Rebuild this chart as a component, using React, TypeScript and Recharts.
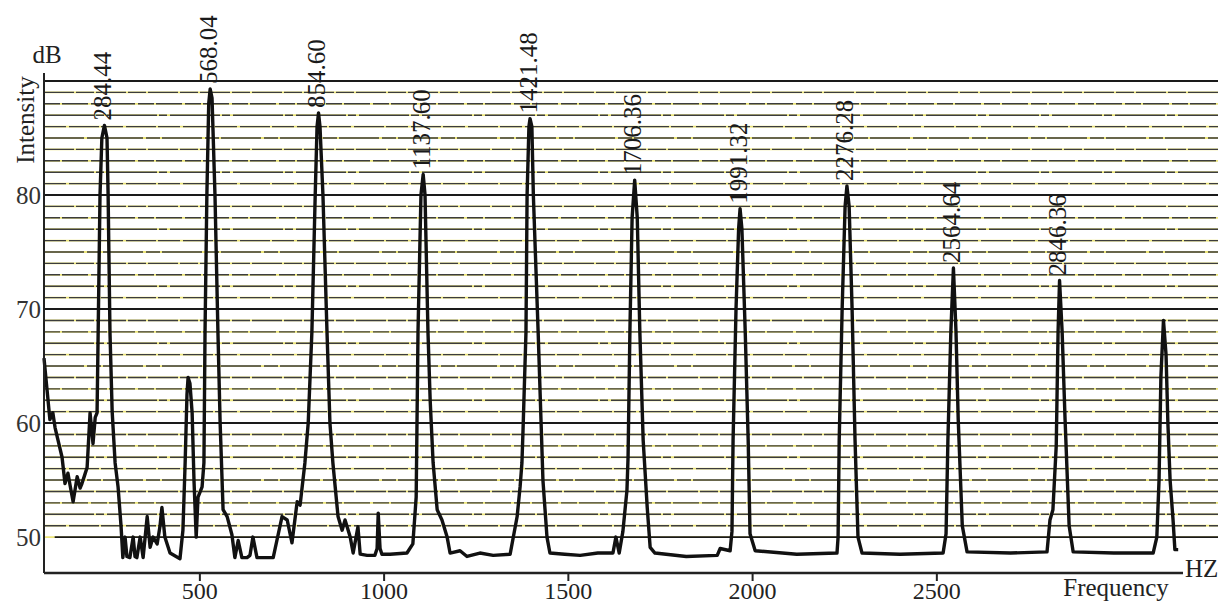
import React from 'react';
import { ComposedChart, Line, Scatter, XAxis, YAxis, ReferenceLine } from 'recharts';

const FONT = "'Liberation Serif', 'Times New Roman', Times, serif";

// Spectrum trace: frequency (Hz) and intensity (dB)
const freqHz = [
  77, 85, 93, 101, 107, 115, 126, 134, 142, 148, 156, 167, 175, 180, 188, 194, 202, 210, 216, 221,
  224, 229, 234, 241, 248, 251, 256, 262, 270, 278,
  286, 291, 297, 302, 310, 319, 324, 329, 338, 346,
  357, 365, 373, 384, 392, 397, 405, 419, 446, 454,
  460, 465, 468, 473, 479, 484, 490, 495, 506, 511,
  514, 519, 524, 528, 533, 541, 549, 555, 563, 574,
  587, 595, 604, 614, 628, 636, 644, 655, 699, 709,
  723, 737, 750, 764, 772, 785, 794, 804, 813, 818,
  822, 826, 834, 845, 853, 861, 875, 886, 894, 908,
  916, 929, 935, 954, 975, 981, 984, 989, 994, 1016,
  1062, 1078, 1087, 1092, 1100, 1106, 1111, 1119, 1125, 1133,
  1144, 1157, 1171, 1179, 1206, 1225, 1260, 1296, 1342, 1361,
  1369, 1374, 1377, 1385, 1388, 1393, 1396, 1401, 1405, 1418,
  1426, 1431, 1442, 1450, 1490, 1532, 1580, 1621, 1629, 1638,
  1648, 1659, 1662, 1667, 1673, 1680, 1687, 1694, 1703, 1714,
  1722, 1735, 1820, 1904, 1912, 1939, 1944, 1947, 1955, 1962,
  1966, 1971, 1980, 1988, 1993, 2007, 2120, 2229, 2232, 2235,
  2243, 2251, 2256, 2262, 2270, 2278, 2286, 2297, 2400, 2517,
  2525, 2530, 2538, 2545, 2552, 2558, 2569, 2582, 2700, 2799,
  2807, 2815, 2824, 2829, 2833, 2840, 2848, 2859, 2870, 2980,
  3087, 3097, 3103, 3108, 3115, 3122, 3127, 3133, 3141, 3146,
  3155,
];
const levelDb = [
  65.7, 63, 60.3, 60.9, 59.6, 58.5, 57.0, 54.7, 55.6, 54.5, 53.1, 55.3, 54.3, 54.7, 55.5, 56.1, 60.9, 58.2, 60.5, 60.9,
  68, 80, 85, 86.1, 85, 80, 68, 61, 56.5, 54.4,
  51, 48.2, 50, 48.3, 48.2, 50, 48.3, 48.2, 50, 48.2,
  51.8, 49.1, 50, 49.4, 51, 52.6, 50, 48.6, 48.1, 50.6,
  56.5, 62.5, 64.0, 63.5, 60.9, 55, 50.0, 53.5, 54.4, 56.5,
  68, 80, 88, 89.3, 88.5, 80, 68, 60, 52.4, 51.8,
  50.2, 48.2, 49.7, 48.2, 48.2, 48.4, 50, 48.2, 48.2, 49.7,
  51.8, 51.5, 49.5, 53.1, 52.8, 56.5, 60, 68, 80, 86,
  87.2, 86, 80, 68, 60, 56.5, 51.8, 50.6, 51.5, 50,
  48.6, 50.9, 48.5, 48.4, 48.4, 49, 52.1, 49, 48.5, 48.5,
  48.6, 49.4, 53.5, 68, 80, 81.8, 80, 68, 62, 56.5,
  52.4, 51.5, 50, 48.6, 48.8, 48.3, 48.6, 48.4, 48.5, 51.8,
  54.4, 56.5, 59.4, 68, 80, 86, 86.7, 86, 80, 68,
  60, 55, 50, 48.6, 48.5, 48.4, 48.6, 48.6, 50, 48.6,
  50.5, 54.1, 57, 68, 78, 81.3, 78, 68, 58.5, 52.6,
  49.1, 48.6, 48.3, 48.4, 49, 48.8, 50.5, 58.5, 70, 77,
  78.8, 77, 68, 58.5, 50.3, 48.8, 48.5, 48.6, 50, 58.5,
  70, 79, 80.8, 79, 70, 58.5, 50, 48.6, 48.5, 48.6,
  50.3, 58.5, 68, 73.6, 68, 60.3, 51, 48.7, 48.6, 48.7,
  51.5, 52.4, 58, 68, 72.5, 68, 60.3, 51, 48.7, 48.6,
  48.6, 50, 55, 64, 69, 66, 60, 55, 51.5, 48.9,
  48.9,
];

// Labelled peaks
const peakHz = [241, 528, 822, 1106, 1396, 1680, 1966, 2256, 2545, 2833];
const peakDb = [86.1, 89.3, 87.2, 81.8, 86.7, 81.3, 78.8, 80.8, 73.6, 72.5];
const peakLabels = ['284.44', '568.04', '854.60', '1137.60', '1421.48', '1706.36', '1991.32', '2276.28', '2564.64', '2846.36'];

const xTicks = [500, 1000, 1500, 2000, 2500];
const yTicks = [50, 60, 70, 80];
const gridDb = Array.from({ length: 41 }, (_, i) => 50 + i);

const spectrum = freqHz.map((f, i) => ({ f, db: levelDb[i] }));
const peaks = peakHz.map((f, i) => ({ f, db: peakDb[i], label: peakLabels[i] }));

const X_DOMAIN: [number, number] = [77, 3263];
const Y_DOMAIN: [number, number] = [46.85, 90.7];

const dashes = ['40 3 14 2', '22 3 30 2', '50 2 8 3', '16 2 26 3', '30 2 18 2'];

const PeakLabel = (props: any) => {
  const { cx, cy, payload } = props;
  if (cx == null || cy == null) return null;
  const x = cx - 2;
  const y = cy - 5;
  return (
    <text
      x={x}
      y={y}
      transform={`rotate(-90, ${x}, ${y})`}
      textAnchor="start"
      dominantBaseline="central"
      fontFamily={FONT}
      fontSize={25}
      fill="#1a1a1a"
    >
      {payload.label}
    </text>
  );
};

export default function App() {
  return (
    <div style={{ position: 'absolute', left: 0, top: 0, width: 1223, height: 605, background: '#fff' }}>
      <ComposedChart width={1223} height={605} data={spectrum} margin={{ top: 73, right: 5, left: 0, bottom: 0 }}>
        <XAxis
          dataKey="f"
          type="number"
          domain={X_DOMAIN}
          ticks={xTicks}
          axisLine={false}
          tickLine={{ stroke: '#222', strokeWidth: 2 }}
          tickSize={8}
          tickMargin={1}
          height={32}
          tick={{ fontSize: 24, fill: '#222', fontFamily: FONT }}
        />
        <YAxis
          type="number"
          domain={Y_DOMAIN}
          ticks={yTicks}
          width={44}
          axisLine={{ stroke: '#222', strokeWidth: 2 }}
          tickLine={false}
          tickSize={0}
          tickMargin={3}
          tick={{ fontSize: 25, fill: '#333', fontFamily: FONT }}
        />
        {gridDb.map((v) => (
          <ReferenceLine
            key={`y${v}`}
            y={v}
            stroke="#e8e05a"
            strokeWidth={1.8}
            strokeOpacity={0.8}
          />
        ))}
        {gridDb.map((v, i) =>
          v === 50 ? (
            <ReferenceLine
              key={`k${v}`}
              segment={[{ x: 106, y: 50 }, { x: X_DOMAIN[1], y: 50 }]}
              stroke="#1a1a1a"
              strokeWidth={1.8}
            />
          ) : (
            <ReferenceLine
              key={`k${v}`}
              y={v}
              stroke={v % 10 === 0 || v === 90 ? '#1a1a1a' : '#3c3c3c'}
              strokeWidth={v % 10 === 0 || v === 90 ? 1.9 : 1.4}
              strokeDasharray={v % 10 === 0 || v === 90 ? undefined : dashes[i % dashes.length]}
            />
          )
        )}
        <ReferenceLine
          segment={[{ x: X_DOMAIN[0], y: Y_DOMAIN[0] }, { x: 3168, y: Y_DOMAIN[0] }]}
          stroke="#222"
          strokeWidth={2.5}
          ifOverflow="visible"
        />
        <Line
          dataKey="db"
          type="linear"
          stroke="#111"
          strokeWidth={3.4}
          strokeLinejoin="round"
          dot={false}
          activeDot={false}
          isAnimationActive={false}
        />
        <Scatter data={peaks} dataKey="db" shape={PeakLabel} isAnimationActive={false} />
      </ComposedChart>
      <svg
        width={1223}
        height={605}
        style={{ position: 'absolute', left: 0, top: 0, pointerEvents: 'none' }}
      >
        <text x={47} y={63} textAnchor="middle" fontFamily={FONT} fontSize={25} fill="#222">dB</text>
        <text
          x={25}
          y={120}
          transform="rotate(-90, 25, 120)"
          textAnchor="middle"
          dominantBaseline="central"
          fontFamily={FONT}
          fontSize={25}
          fill="#222"
        >
          Intensity
        </text>
        <text x={1116} y={596} textAnchor="middle" fontFamily={FONT} fontSize={25} fill="#222">Frequency</text>
        <text x={1185} y={577} textAnchor="start" fontFamily={FONT} fontSize={25} fill="#222">HZ</text>
      </svg>
    </div>
  );
}
